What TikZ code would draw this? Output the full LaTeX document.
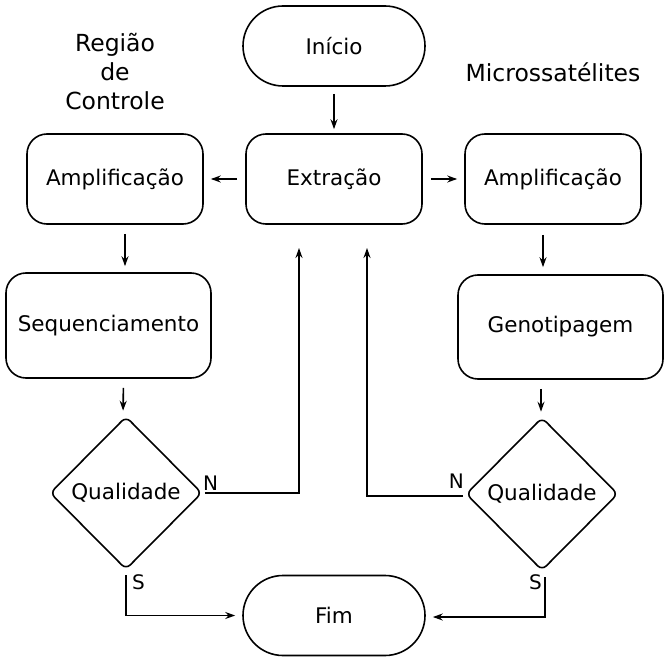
\documentclass[tikz,border=0pt]{standalone}
\usepackage{fontspec}
\setmainfont{DejaVu Sans}
\usetikzlibrary{shapes.geometric,arrows.meta}
\begin{document}
\begin{tikzpicture}[x=1pt,y=-1pt,
  box/.style={draw,line width=1.6pt,rounded corners=20pt,minimum width=176pt,minimum height=90pt,inner sep=0pt,font=\fontsize{21.5}{26}\selectfont},
  pill/.style={draw,line width=1.6pt,rounded corners=40pt,minimum width=182pt,minimum height=80pt,inner sep=0pt,font=\fontsize{21.5}{26}\selectfont},
  decision/.style={draw,diamond,line width=1.6pt,rounded corners=6pt,minimum width=152pt,minimum height=153pt,inner sep=0pt,font=\fontsize{21.5}{26}\selectfont},
  lbl/.style={font=\fontsize{23.5}{29}\selectfont,align=center},
  yn/.style={font=\fontsize{20}{24}\selectfont,inner sep=0pt},
  arr/.style={-{Stealth[length=10pt,width=7pt]},line width=1.6pt},
  ln/.style={line width=1.6pt}]
\useasboundingbox (0,0) rectangle (669,663);
\node[pill] (inicio) at (334,46) {Início};
\node[box] (extr) at (334,179) {Extração};
\node[box] (ampL) at (115,179) {Amplificação};
\node[box] (ampR) at (553,179) {Amplificação};
\node[box,minimum width=205pt,minimum height=105pt] (seq) at (108.5,325.5) {Sequenciamento};
\node[box,minimum width=205pt,minimum height=104pt] (geno) at (560.5,327) {Genotipagem};
\node[decision] (qL) at (126,493) {Qualidade};
\node[decision] (qR) at (542,494) {Qualidade};
\node[pill] (fim) at (334,615.5) {Fim};
\node[lbl] (regiao) at (115,72) {Região\\de\\Controle};
\node[lbl] (micro) at (553,72) {Microssatélites};
% main arrows
\draw[arr,shorten <=7pt,shorten >=4pt] (inicio.south) -- (extr.north);
\draw[arr,shorten <=8pt,shorten >=7pt] (extr.west) -- (ampL.east);
\draw[arr,shorten <=8pt,shorten >=7pt] (extr.east) -- (ampR.west);
\draw[arr,shorten <=9pt,shorten >=6pt] ([xshift=10pt]ampL.south) -- ([xshift=16.5pt]seq.north);
\draw[arr,shorten <=9pt,shorten >=5pt] ([xshift=15pt]seq.south) -- ([xshift=-3pt]qL.north);
\draw[arr,shorten <=10pt,shorten >=7pt] ([xshift=-10pt]ampR.south) -- ([xshift=-17.5pt]geno.north);
\draw[arr,shorten <=9pt,shorten >=5pt] ([xshift=-19.5pt]geno.south) -- ([xshift=-1pt]qR.north);
% feedback
\coordinate (fbL) at (299,248);
\coordinate (fbR) at (367,248);
\draw[arr,shorten <=2pt] (qL.east) -| (fbL);
\draw[arr,shorten <=2pt] ([yshift=-2pt]qR.west) -| (fbR);
\node[yn,anchor=south west] (nL) at (203,491) {N};
\node[yn,anchor=south east] (nR) at (464,489) {N};
% to fim
\coordinate (sL) at (126,575);
\coordinate (sR) at (545,577);
\draw[arr,shorten >=7pt] (sL) |- (fim.west);
\draw[arr,shorten >=7pt] (sR) |- ([yshift=-1.5pt]fim.east);
\node[yn,anchor=north west] (sLl) at (132,574) {S};
\node[yn,anchor=north east] (sRl) at (542,574) {S};
\end{tikzpicture}
\end{document}
